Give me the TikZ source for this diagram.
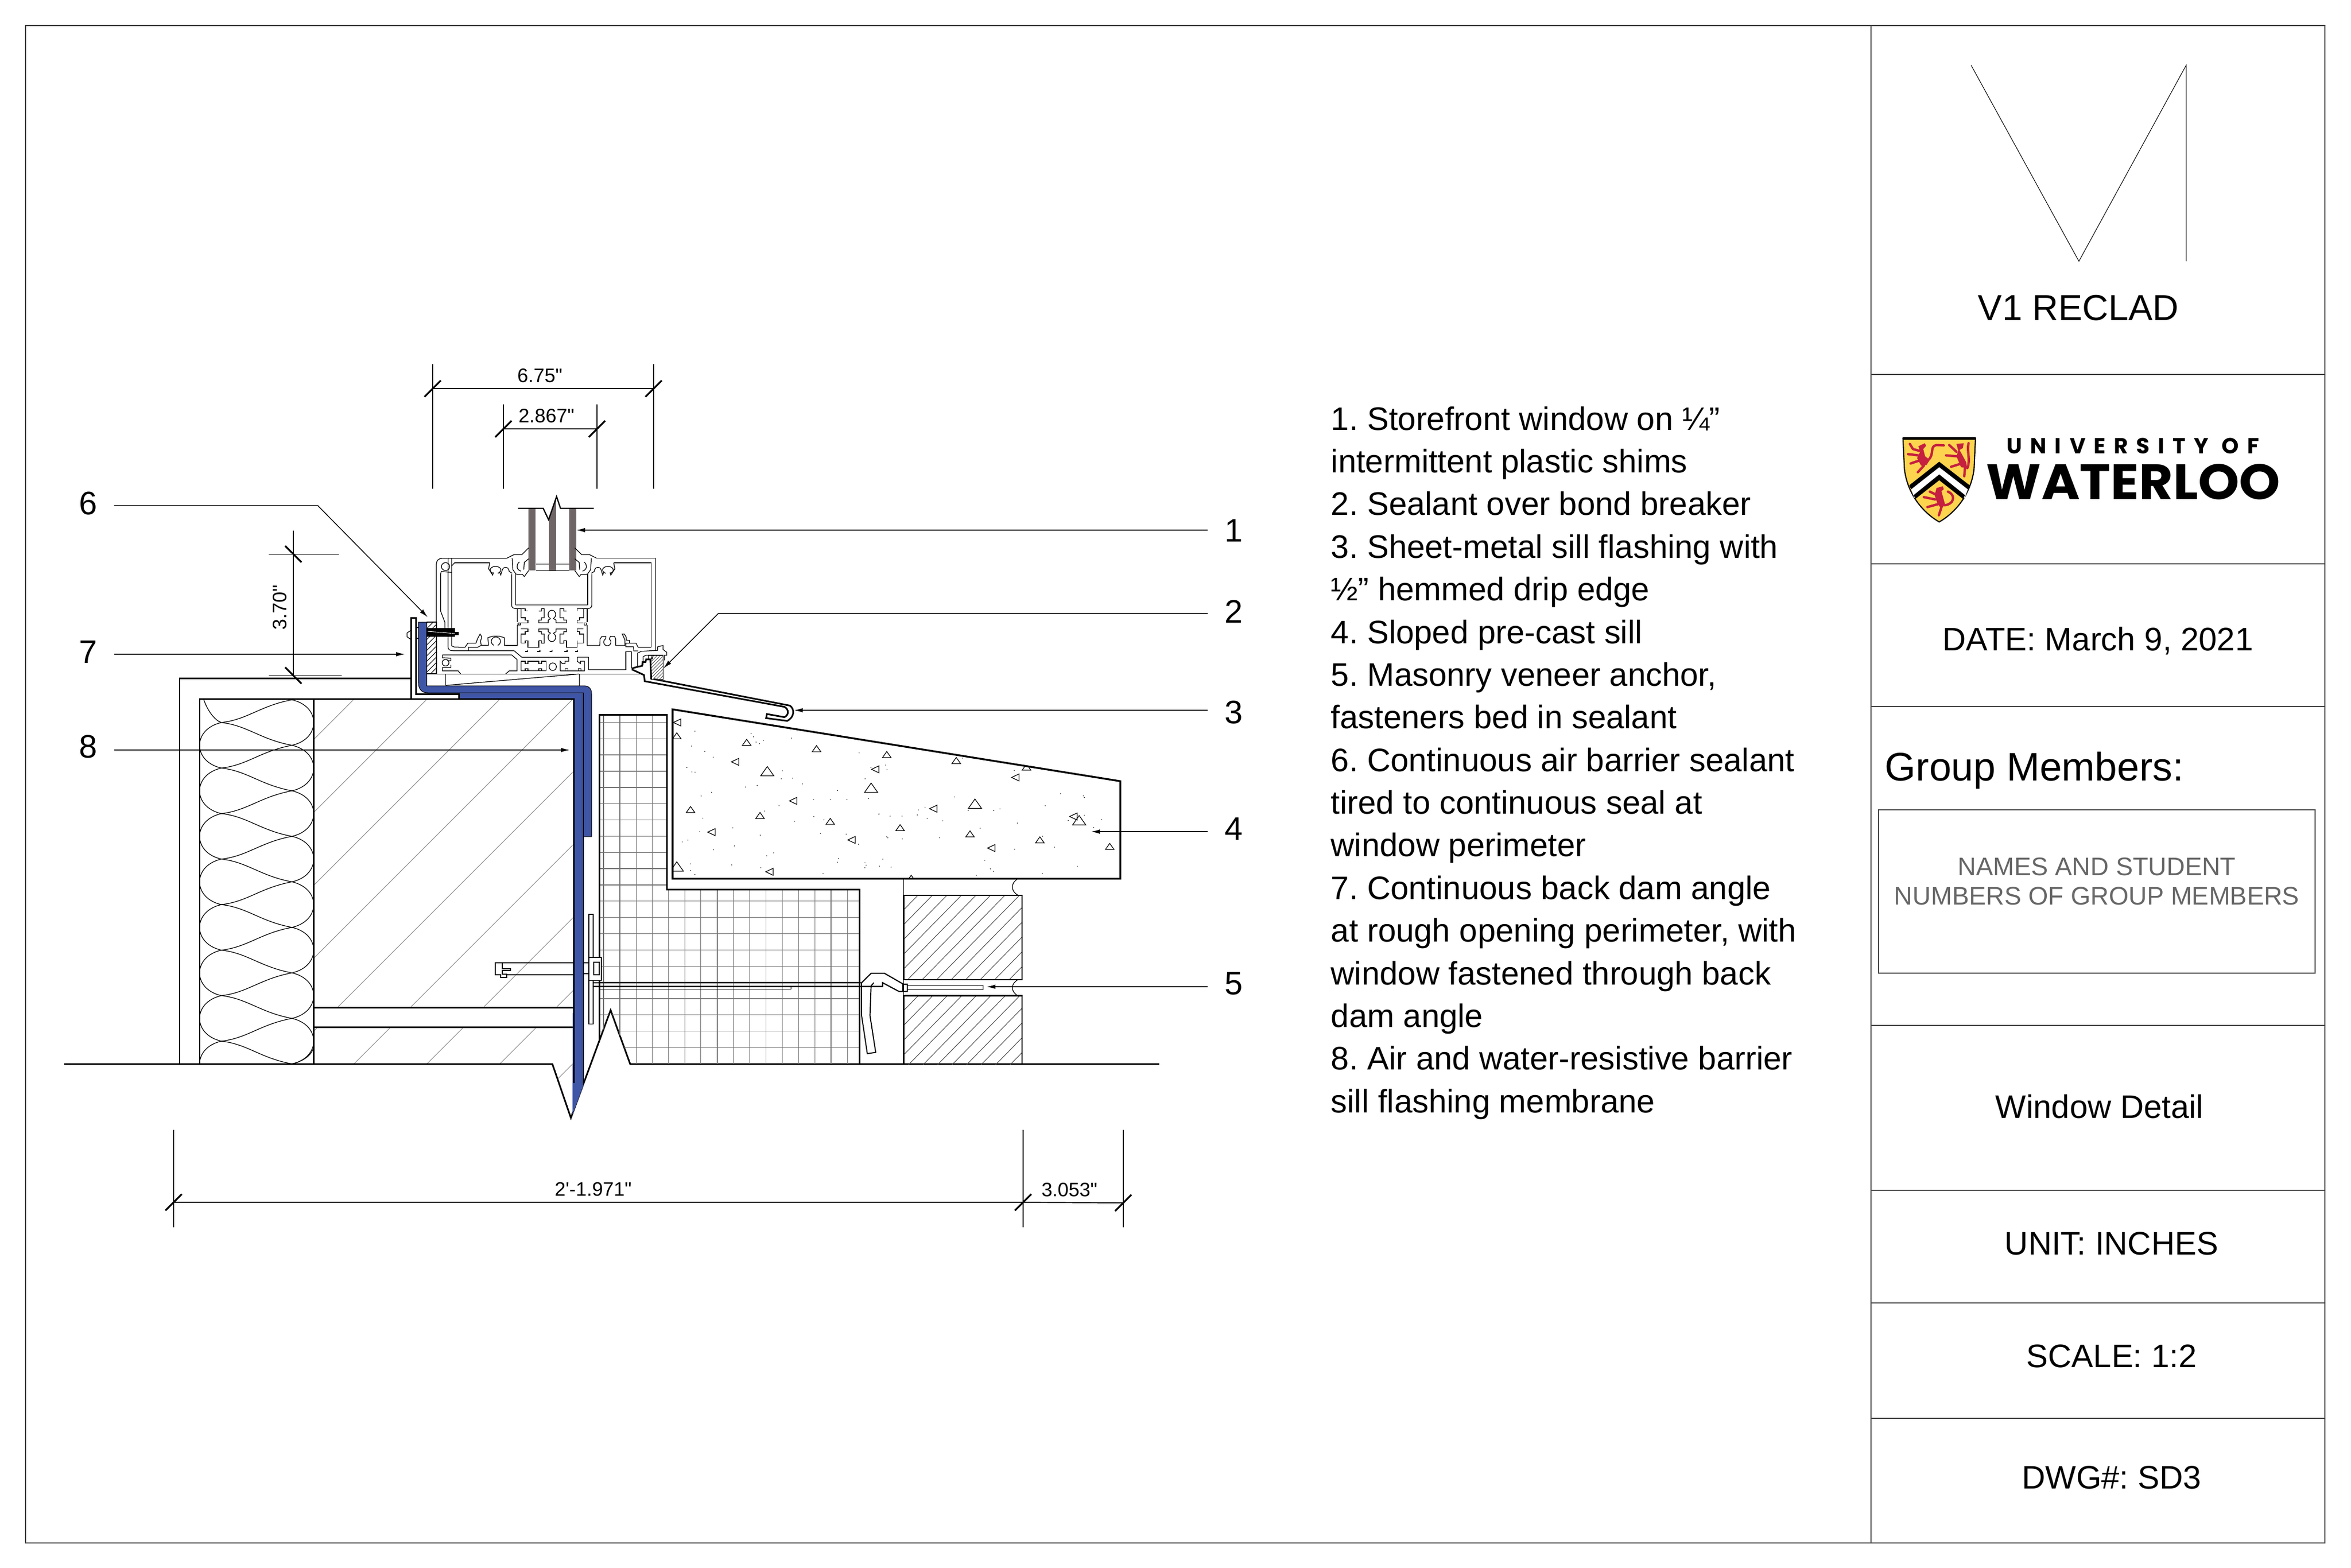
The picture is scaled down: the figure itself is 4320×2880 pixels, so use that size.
\documentclass[tikz,border=0pt]{standalone}
\usepackage{fontspec}
\setmainfont{Liberation Sans}
\newfontfamily\dimfont{Liberation Sans}
\newfontfamily\logosmall[LetterSpace=38]{Poppins}
\newfontfamily\logolarge{Poppins}
\usetikzlibrary{arrows.meta,calc}
\definecolor{membrane}{HTML}{3F55A5}
\definecolor{glazing}{HTML}{6E6567}
\definecolor{shieldgold}{HTML}{FDD44E}
\definecolor{lionred}{HTML}{C5203F}
\frenchspacing
\tikzset{
	sheet/.style={line width=0.55pt, color=black!75},
	prof/.style={line width=0.36pt, color=black},
	heavy/.style={line width=0.85pt, color=black},
	gridline/.style={line width=0.38pt, color=black!55},
	hatchline/.style={line width=0.3pt, color=black!45},
	leader/.style={line width=0.42pt, -{Latex[length=1.6mm,width=0.8mm]}},
	extline/.style={line width=0.3pt},
	dimline/.style={line width=0.4pt},
	tickmark/.style={line width=0.9pt},
	callout/.style={minimum width=0.94cm, inner sep=0pt, font=\fontsize{17}{20}\selectfont},
	dimtext/.style={inner sep=0pt, anchor=base, font=\dimfont\fontsize{10.2}{12}\selectfont},
	blocktext/.style={inner sep=0pt, anchor=base, font=\fontsize{17.02}{20}\selectfont},
	lionpart/.style={line width=1.25pt, color=lionred, line cap=round, line join=round},
	framecoords/.style={shift={(650,850)},xscale=0.4464,yscale=0.3333},
	cleatcoords/.style={shift={(930,1100)},xscale=0.3333,yscale=0.3333},
	wallcoords/.style={shift={(300,1150)},xscale=0.574,yscale=0.606},
	sillcoords/.style={shift={(1050,1200)},xscale=0.7015,yscale=0.574},
	shieldcoords/.style={shift={(3480,795)},xscale=0.3333,yscale=0.3333}
}
\def\dimtick(#1,#2){\draw[tickmark] (#1-15,#2+15) -- (#1+15,#2-15);}
\def\dimtickback(#1,#2){\draw[tickmark] (#1-15,#2-15) -- (#1+15,#2+15);}
\def\aggr(#1,#2,#3,#4){\draw[line width=0.35pt] ($(#1,#2)+(#4:#3)$) -- ($(#1,#2)+(#4+120:#3)$) -- ($(#1,#2)+(#4+240:#3)$) -- cycle;}
\def\cleatrow{
	\draw[prof] (120,68) -- (105,68) -- (105,55) -- (82,55) -- (82,105) -- (105,105) -- (105,118) -- (120,118) -- (120,133) -- (82,133);
	\draw[prof] (180,68) -- (195,68) -- (195,55) -- (210,55) -- (210,105) -- (195,105) -- (195,118) -- (180,118) -- (180,133) -- (232,133) -- (232,118) -- (245,110);
	\draw[prof] (262,110) -- (275,118) -- (275,133) -- (333,133) -- (333,118) -- (318,118) -- (318,105) -- (297,105) -- (297,55) -- (318,55) -- (318,68) -- (333,68);
	\draw[prof] (392,68) -- (392,55) -- (427,55) -- (427,105) -- (405,105) -- (405,118) -- (392,118) -- (392,133) -- (427,133);
	\draw[prof] (245,110) arc (110:430:21 and 24);
}
\def\glazingleg{
	% frame top, gasket and clip rings on one side
	\draw[prof] (630,527) -- (660,507) -- (692,507) -- (720,470);
	\draw[prof] (652,527) -- (655,590) -- (668,615);
	\draw[prof] (650,615) -- (650,785) .. controls (650,798) and (655,805) .. (672,805) -- (690,805);
	\draw[prof] (667,615) -- (667,785);
	\draw[prof] (667,615) -- (695,617) -- (702,628) -- (720,595);
	\draw[prof] (720,530) -- (702,550) -- (700,590);
	\draw[prof] (682,548) .. controls (668,560) and (668,590) .. (688,598);
	\draw[prof] (560,553) -- (555,585) -- (572,620) -- (575,605);
	\draw[prof] (593,610) arc (65:-245:22 and 20);
	\draw[prof] (600,600) -- (605,620) -- (612,590) arc (180:360:13 and 12) -- (640,600) -- (652,610);
	\draw[prof] (415,552) -- (560,552);
}

\begin{document}
\begin{tikzpicture}[x=0.01cm,y=-0.01cm]
	\useasboundingbox (0,0) rectangle (4320,2880);
	%%%%% START %%%%%
	
	% sheet border and title block
	\draw[sheet] (47,47) rectangle (4272,2835);
	\draw[sheet] (3438,47) -- (3438,2835);
	\foreach \rowy in {688,1036,1298,1884,2187,2394,2606}
		\draw[sheet] (3438,\rowy) -- (4272,\rowy);
	\draw[sheet] (3452,1488) rectangle (4254,1788);
	\draw[line width=0.3pt] (3622,120) -- (3820,480) -- (4017,120) -- (4017,480);
	
	\node[blocktext, font=\fontsize{18.85}{22}\selectfont] (titleproject) at (3819,588) {V1 RECLAD};
	\node[blocktext] (titledate) at (3855,1195) {DATE: March 9, 2021};
	\node[blocktext, font=\fontsize{20.8}{24}\selectfont, anchor=base west] (titlegroup) at (3463,1434) {Group Members:};
	\node[blocktext, font=\fontsize{13.27}{15.3}\selectfont, color=black!60, align=center, anchor=north] (titlenames) at (3853,1575) {NAMES AND STUDENT\\NUMBERS OF GROUP MEMBERS};
	\node[blocktext] (titleview) at (3858,2054) {Window Detail};
	\node[blocktext] (titleunit) at (3880,2305) {UNIT: INCHES};
	\node[blocktext] (titlescale) at (3880,2512) {SCALE: 1:2};
	\node[blocktext] (titledwg) at (3880,2735) {DWG\#: SD3};
	
	% logo
	\begin{scope}[shieldcoords]
		\draw[line width=0.6pt, fill=shieldgold] (50,30) -- (450,30) -- (442,200) .. controls (425,340) and (340,440) .. (250,492) .. controls (160,440) and (75,340) .. (58,200) -- cycle;
		\draw[line width=1.6pt] (50,31) -- (450,31);
		\fill[white] (92,300) -- (250,180) -- (412,300) -- (390,360) -- (250,250) -- (112,360) -- cycle;
		\fill (85,290) -- (250,160) -- (420,292) -- (408,312) -- (250,190) -- (95,312) -- cycle;
		\fill (108,345) -- (250,230) -- (393,345) -- (380,364) -- (250,262) -- (120,364) -- cycle;
		% lions
		\fill[lionred] (135,75) -- (170,58) -- (178,72) -- (162,90) -- (172,130) -- (198,150) -- (180,178) -- (150,182) -- (128,140) -- (145,105) -- cycle;
		\draw[lionpart] (88,62) -- (105,90) -- (140,100) (78,118) -- (135,125) (92,170) -- (150,150) (132,218) -- (165,182);
		\draw[lionpart] (190,150) .. controls (225,120) and (195,75) .. (235,68) -- (275,70);
		\fill[lionred] (345,62) -- (385,58) -- (380,85) -- (362,95) -- (400,165) -- (402,195) -- (370,190) -- (345,130) -- (355,100) -- cycle;
		\draw[lionpart] (305,68) -- (345,105) (288,125) -- (345,130) (315,188) -- (372,170) (388,240) -- (392,195);
		\draw[lionpart] (405,195) .. controls (425,150) and (400,100) .. (412,58);
		\fill[lionred] (235,305) -- (270,295) -- (275,312) -- (262,322) -- (282,395) -- (262,420) -- (240,390) -- (225,345) -- cycle;
		\draw[lionpart] (198,325) -- (240,345) (165,355) -- (228,368) (185,410) -- (250,392) (248,455) -- (262,412);
		\draw[lionpart] (280,400) .. controls (330,395) and (345,345) .. (298,325);
	\end{scope}
	\node[inner sep=0pt, font=\logosmall\bfseries\fontsize{11.4}{13}\selectfont] (logouniversity) at (3919,819) {UNIVERSITY OF};
	\node[inner sep=0pt, xscale=1.055, font=\logolarge\bfseries\fontsize{25.9}{30}\selectfont] (logowaterloo) at (3920,885) {WATERLOO};
	
	% notes
	\node[inner sep=0pt, anchor=north west, align=left, font=\fontsize{17.02}{22.29}\selectfont] (noteblock) at (2445,746) {1. Storefront window on ¼”\\
		intermittent plastic shims\\
		2. Sealant over bond breaker\\
		3. Sheet-metal sill flashing with\\
		½” hemmed drip edge\\
		4. Sloped pre-cast sill\\
		5. Masonry veneer anchor,\\
		fasteners bed in sealant\\
		6. Continuous air barrier sealant\\
		tired to continuous seal at\\
		window perimeter\\
		7. Continuous back dam angle\\
		at rough opening perimeter, with\\
		window fastened through back\\
		dam angle\\
		8. Air and water-resistive barrier\\
		sill flashing membrane};
	
	% insulation and backing wall
	\draw[heavy] (330,1955) -- (330,1246) -- (755,1246);
	\begin{scope}
		\clip (576,1284) -- (1054,1284) -- (1054,2054) -- (1049,2054) -- (1015,1955) -- (576,1955) -- cycle;
		\foreach \k in {0,...,9}
			\draw[hatchline] (1935+134*\k-1284,1284) -- (1935+134*\k-2100,2100);
		\fill[white] (576,1851) rectangle (1054,1887);
	\end{scope}
	\draw[heavy] (576,1851) -- (1054,1851);
	\draw[heavy] (576,1887) -- (1054,1887);
	\begin{scope}
		\clip (367,1284) rectangle (576,1955);
		\begin{scope}[wallcoords]
			\draw[prof] (117,170) .. controls (125,240) and (160,285) .. (186,293);
			\foreach \wy in {224,362,500,638,776,914,1052,1190} {
				\draw[prof] (412,\wy) .. controls (505,\wy+20) and (505,\wy+118) .. (412,\wy+138);
				\draw[prof] (186,\wy+69) .. controls (270,\wy+60) and (310,\wy+18) .. (412,\wy);
				\draw[prof] (186,\wy+69) .. controls (270,\wy+78) and (310,\wy+120) .. (412,\wy+138);
				\draw[prof] (186,\wy+69) .. controls (93,\wy+89) and (93,\wy+187) .. (186,\wy+207);
			}
			\draw[prof] (412,1328) .. controls (450,1320) and (475,1300) .. (481,1280);
		\end{scope}
	\end{scope}
	\draw[heavy] (367,1955) -- (367,1284) -- (755,1284);
	\draw[heavy] (576,1284) -- (576,1955);
	
	% base line with break
	\draw[heavy] (118,1955) -- (1015,1955) -- (1049,2054) -- (1122,1856) -- (1158,1955) -- (2130,1955);
	
	% masonry block
	\begin{scope}[sillcoords]
		\begin{scope}
			\clip (73,197) -- (250,197) -- (250,757) -- (755,757) -- (755,1316) -- (155,1316) -- (102,1142) -- (73,1240) -- cycle;
			\foreach \gx in {84,127,170,212,254,297,339,382,424,467,510,552,595,638,680,723}
				\draw[gridline] (\gx,197) -- (\gx,1316);
			\foreach \gy in {222,274,...,1300}
				\draw[gridline] (73,\gy) -- (755,\gy);
		\end{scope}
		\draw[heavy] (73,1240) -- (73,197) -- (250,197) -- (250,757) -- (755,757) -- (755,1316);
		
		% brick and cavity
		\draw[prof] (870,722) -- (870,1316);
		\begin{scope}
			\clip (870,775) rectangle (1180,1045);
			\foreach \k in {0,...,14}
				\draw[hatchline, color=black!70] (432+\k*38,1320) -- (432+\k*38+1000,75);
		\end{scope}
		\begin{scope}
			\clip (870,1097) rectangle (1180,1316);
			\foreach \k in {0,...,13}
				\draw[hatchline, color=black!70] (691+\k*38,1320) -- (691+\k*38+1000,75);
		\end{scope}
		\draw[heavy, line width=0.7pt] (870,775) rectangle (1180,1045);
		\draw[heavy, line width=0.7pt] (870,1316) -- (870,1097) -- (1180,1097) -- (1180,1316);
		\draw[prof] (1170,722) .. controls (1150,735) and (1150,762) .. (1170,775);
		\draw[prof] (1170,1045) .. controls (1150,1058) and (1150,1084) .. (1170,1097);
		
		% veneer anchor
		\draw[heavy, line width=0.6pt] (57,1055) -- (760,1055) -- (785,1025) -- (820,1025) -- (870,1060);
		\draw[heavy, line width=0.6pt] (57,1067) -- (815,1067) -- (815,1055) -- (858,1083) -- (880,1083) -- (880,1060) -- (868,1060) -- (868,1083);
		\draw[prof] (75,1067) -- (575,1067) -- (575,1076) -- (75,1076);
		\draw[prof] (880,1064) -- (1078,1064) -- (1078,1077) -- (880,1077);
		\draw[prof, line width=0.55pt] (760,1055) -- (760,1160) -- (775,1282) -- (797,1278) -- (782,1160) -- (785,1065) -- (792,1055);
		
		% pre-cast sill
		\draw[heavy, line width=0.95pt] (265,180) -- (1438,410) -- (1438,722) -- (265,722) -- cycle;
		\begin{scope}
			\clip (265,180) -- (1438,410) -- (1438,722) -- (265,722) -- cycle;
			\foreach \ax/\ay/\as/\ar in {280/222/13/180,276/268/13/270,459/289/13/270,432/348/13/180,513/383/20/270,642/309/13/270,826/328/13/270,799/372/13/180,1008/347/13/270,1192/368/13/270,1166/398/13/180,785/436/20/270,584/473/13/180,312/504/13/270,494/523/13/270,370/573/13/180,678/542/13/270,737/598/13/180,861/562/13/270,951/498/13/180,1057/487/20/270,1044/582/13/270,1103/624/13/180,1227/601/13/270,1410/622/13/270,1318/523/13/180,1330/540/20/270,276/688/20/270,522/700/13/180,890/724/13/270} {
				\aggr(\ax,\ay,\as,\ar)
			}
			\pgfmathsetseed{41}
			\foreach \k in {1,...,130} {
				\pgfmathsetmacro{\dotx}{280+1150*rnd}
				\pgfmathsetmacro{\doty}{190+525*rnd}
				\fill (\dotx,\doty) circle (1.3);
			}
		\end{scope}
		
		% sill flashing with hem
		\draw[heavy] (215,83) -- (572,168) .. controls (585,178) and (585,205) .. (565,217) -- (510,208) -- (512,195) -- (558,205) .. controls (570,198) and (570,180) .. (558,172) -- (192,90) -- (190,70) -- (158,52);
	\end{scope}
	
	% air barrier membrane
	\draw[fill=membrane, line width=0.3pt] (769,1143) -- (784,1143) -- (784,1260) -- (1072,1260) .. controls (1082,1260) and (1087,1265) .. (1087,1275) -- (1087,1537) -- (1072,1537) -- (1072,1273) -- (786,1273) .. controls (775,1273) and (769,1266) .. (769,1255) -- cycle;
	\fill[membrane] (843,1274) -- (1072,1274) -- (1072,1994) -- (1052,2048) -- (1054,1284) -- (843,1284) -- cycle;
	\draw[heavy] (843,1284) -- (1054,1284) -- (1054,1990);
	\draw[prof] (1072,1273) -- (1072,1994);
	
	% back dam angle
	\draw[heavy, fill=white] (755,1135) -- (764,1135) -- (764,1275) -- (843,1275) -- (843,1284) -- (755,1284) -- cycle;
	\draw[prof] (755,1158) -- (748,1163) -- (748,1170) -- (755,1175);
	\draw[prof] (764,1153) -- (769,1153) (764,1173) -- (769,1173);
	
	% shim with hatch and window fastener
	\begin{scope}
		\clip (784,1143) rectangle (802,1238);
		\foreach \k in {1145,1155,...,1270}
			\draw[line width=0.3pt] (784,\k) -- (804,\k-20);
	\end{scope}
	\draw[prof] (784,1143) -- (802,1143) -- (802,1238) -- (784,1238);
	\fill (784,1154) rectangle (836,1170);
	\fill (836,1161) rectangle (843,1167);
	\draw[white, line width=0.25pt] (786,1160) -- (836,1164);
	
	% glass
	\fill[glazing] (971,934) rectangle (984,1048);
	\fill[glazing] (1046,934) rectangle (1059,1048);
	
	% storefront frame
	\begin{scope}[framecoords]
		\fill[glazing] (804,315) -- (833,195) -- (833,595) -- (804,595) -- cycle;
		\draw[heavy, line width=0.65pt] (676,252) -- (780,252) -- (802,315) -- (835,187) -- (851,252) -- (988,252);
		\draw[prof] (750,560) -- (804,560) (833,560) -- (888,560) (750,595) -- (888,595);
		\draw[prof] (340,880) -- (340,560) .. controls (340,540) and (350,527) .. (365,527) -- (630,527);
		\draw[prof] (1000,527) -- (1242,527) -- (1242,1035);
		\draw[prof] (1224,550) -- (1224,1018);
		\draw[prof] (1075,552) -- (1224,552);
		\glazingleg
		\begin{scope}[shift={(1630,0)},xscale=-1]
			\glazingleg
		\end{scope}
		\draw[prof] (667,785) -- (960,785);
		% left jamb
		\draw[prof] (358,612) -- (358,820) -- (375,880) -- (375,912);
		\draw[prof] (388,605) -- (388,1015) .. controls (388,1030) and (395,1037) .. (410,1037) -- (660,1037) -- (692,1073) -- (885,1073);
		\draw[prof] (403,527) -- (403,1010) -- (415,1017) -- (458,1018) -- (470,995) -- (503,995) -- (510,970) -- (520,945) -- (527,960) -- (522,985) -- (525,1007) -- (555,1007) -- (552,965) -- (572,957) -- (600,957) -- (620,965) -- (620,1007) -- (672,1007);
		\draw[prof] (577,1007) arc (115:425:19 and 24);
		\draw[prof] (472,1037) -- (472,1018) -- (510,1018) -- (525,1007);
		\draw[prof] (358,612) -- (360,600) -- (403,605);
		\draw[prof] (388,527) -- (388,605);
		\draw[prof] (378,573) ellipse (17 and 22);
		\draw[prof] (403,570) -- (415,552);
		% lower chamber
		\draw[prof] (365,1060) -- (650,1060) -- (672,1085) -- (672,1148) -- (640,1148) -- (625,1165);
		\draw[prof] (365,1060) -- (365,1076) -- (400,1078) -- (400,1092) -- (385,1092);
		\draw[prof] (378,1103) ellipse (14 and 18);
		\draw[prof] (400,1115) -- (400,1130) -- (365,1130) -- (365,1148) -- (430,1148) -- (440,1165);
		\draw[prof] (340,1165) -- (1185,1165);
		\draw[prof] (340,880) -- (340,1165);
		% wedge below frame
		\draw[prof] (301,1165) -- (340,1165);
		\draw[prof] (378,1165) -- (378,1228);
		\draw[prof] (928,1165) -- (928,1230);
		\draw[prof] (378,1228) -- (928,1165);
	\end{scope}
	\begin{scope}[cleatcoords]
		\cleatrow
		\begin{scope}[shift={(0,300)},yscale=-1]
			\cleatrow
		\end{scope}
		\draw[prof] (62,55) -- (62,130) (447,55) -- (447,130);
		\draw[prof] (62,145) -- (62,258) -- (0,258);
		\draw[prof] (66,133) rectangle (78,145);
		\draw[prof] (431,133) rectangle (443,145);
		\draw[prof] (120,232) -- (120,268) -- (180,268) -- (180,232);
		\draw[prof] (333,232) -- (333,268) -- (392,268) -- (392,232);
		\foreach \dx in {105,172,240,322,380} {
			\draw[prof] (\dx,291) -- (\dx+14,291) -- (\dx+14,281);
		}
		% right chamber bottom
		\draw[prof] (447,145) -- (447,258) -- (516,258) -- (518,222) -- (528,208) -- (550,208) -- (548,222);
		\draw[prof] (548,222) arc (240:-60:20 and 20);
		\draw[prof] (568,223) -- (575,208) -- (598,208) -- (604,222) -- (604,258) -- (655,258) -- (655,228) -- (645,205) -- (640,195) -- (652,195) -- (662,212) -- (662,228) -- (680,230) -- (680,245) -- (660,245) -- (660,265) -- (702,265) -- (704,288) -- (728,288);
		\draw[prof] (682,245) -- (716,245) -- (728,268) -- (800,268);
		% lower cleats
		\draw[prof] (345,322) -- (90,322);
		\draw[prof] (345,322) -- (345,345) -- (325,345) -- (325,358) -- (310,358) -- (298,345) -- (298,398);
		\draw[prof] (392,322) -- (455,322) -- (455,392) -- (660,392) -- (660,292) -- (692,292) -- (692,385);
		\draw[prof] (392,322) -- (392,345) -- (410,358) -- (410,345) -- (432,345) -- (432,398) -- (298,398);
		\draw[prof] (82,345) -- (82,398) -- (220,398) -- (220,345) -- (195,345) -- (195,358) -- (180,358) -- (180,345) -- (120,345) -- (120,358) -- (105,358) -- (105,345) -- (82,345);
		\draw[prof] (105,398) -- (105,385) -- (120,385) -- (120,398) (180,398) -- (180,385) -- (195,385) -- (195,398) (325,398) -- (325,385) -- (340,385) -- (340,398) (398,398) -- (398,385) -- (412,385) -- (412,398);
		\draw[prof] (257,375) ellipse (20 and 21);
		% sealant at sill end
		\begin{scope}
			\clip (800,312) rectangle (865,445);
			\foreach \k in {0,...,14}
				\draw[hatchline, color=black!70] (790,320+\k*18) -- (875,235+\k*18);
		\end{scope}
		\draw[prof] (800,312) rectangle (865,445);
		\draw[heavy] (692,385) -- (715,378) -- (750,370) -- (752,350) -- (768,350) -- (772,335) -- (795,335) -- (800,445);
		\draw[prof] (725,372) -- (725,300) -- (745,290) -- (835,285) -- (835,265) -- (865,258) -- (865,280) -- (885,295) -- (885,312) -- (873,312) -- (873,340);
		\draw[prof] (755,365) -- (755,320) -- (770,312) -- (800,312);
		\draw[prof] (785,312) rectangle (808,332);
	\end{scope}
	
	% fastener through membrane
	\begin{scope}[wallcoords]
		\draw[heavy, line width=0.55pt] (1313,1022) -- (1062,1022) -- (1062,1058) -- (1080,1058) -- (1080,1066) -- (1100,1066) -- (1100,1056) -- (1085,1056) -- (1085,1045) -- (1112,1045) -- (1112,1040) -- (1085,1040) -- (1085,1022);
		\draw[heavy, line width=0.55pt] (1313,1058) -- (1100,1058);
		\draw[heavy, line width=0.55pt] (1345,1022) -- (1362,1022) (1345,1055) -- (1362,1055);
		\draw[prof, line width=0.55pt, fill=white] (1362,875) rectangle (1376,1207);
		\draw[heavy, line width=0.55pt, fill=white] (1362,1005) rectangle (1402,1075);
		\draw[heavy, line width=0.55pt] (1378,1020) rectangle (1395,1058);
	\end{scope}
	
	% dimensions
	\draw[extline] (795,669) -- (795,898);
	\draw[extline] (1201,669) -- (1201,898);
	\draw[extline] (925,743) -- (925,898);
	\draw[extline] (1097,743) -- (1097,898);
	\draw[dimline] (795,714) -- (1201,714);
	\draw[dimline] (925,788) -- (1097,788);
	\dimtick(795,714)
	\dimtick(1201,714)
	\dimtick(925,788)
	\dimtick(1097,788)
	\node[dimtext] (dimtotal) at (992,702) {6.75"};
	\node[dimtext] (dimframe) at (1004,776) {2.867"};
	
	\draw[extline] (539,975) -- (539,1241);
	\draw[extline] (494,1018) -- (623,1018);
	\draw[extline] (494,1241) -- (628,1241);
	\dimtickback(539,1018)
	\dimtickback(539,1241)
	\node[dimtext, rotate=90] (dimdam) at (526,1116) {3.70"};
	
	\draw[extline] (319,2076) -- (319,2255);
	\draw[extline] (1880,2076) -- (1880,2255);
	\draw[extline] (2064,2076) -- (2064,2255);
	\draw[dimline, line width=0.55pt] (319,2209) -- (1880,2209) -- (2064,2210);
	\dimtick(319,2209)
	\dimtick(1880,2209)
	\dimtick(2064,2210)
	\node[dimtext] (dimwall) at (1090,2197) {2'-1.971"};
	\node[dimtext] (dimsill) at (1965,2198) {3.053"};
	
	% callouts
	\node[callout] (num1) at (2267,975) {1};
	\node[callout] (num2) at (2267,1124) {2};
	\node[callout] (num3) at (2267,1309) {3};
	\node[callout] (num4) at (2267,1523) {4};
	\node[callout] (num5) at (2267,1807) {5};
	\node[callout] (num6) at (162,925) {6};
	\node[callout] (num7) at (162,1198) {7};
	\node[callout] (num8) at (162,1372) {8};
	\coordinate (tip1) at (1059,974);
	\coordinate (bend2) at (1320,1127);
	\coordinate (tip2) at (1219,1228);
	\coordinate (tip3) at (1459,1305);
	\coordinate (tip4) at (2005,1528);
	\coordinate (tip5) at (1813,1813);
	\coordinate (bend6) at (584,929);
	\coordinate (tip6) at (786,1134);
	\coordinate (tip7) at (744,1202);
	\coordinate (tip8) at (1047,1378);
	\draw[leader] (num1.west |- tip1) -- (tip1);
	\draw[leader] (num2.west |- bend2) -- (bend2) -- (tip2);
	\draw[leader] (num3.west |- tip3) -- (tip3);
	\draw[leader] (num4.west |- tip4) -- (tip4);
	\draw[leader] (num5.west |- tip5) -- (tip5);
	\draw[leader] (num6.east |- bend6) -- (bend6) -- (tip6);
	\draw[leader] (num7.east |- tip7) -- (tip7);
	\draw[leader] (num8.east |- tip8) -- (tip8);
	
	%%%%% END %%%%%
\end{tikzpicture}
\end{document}
